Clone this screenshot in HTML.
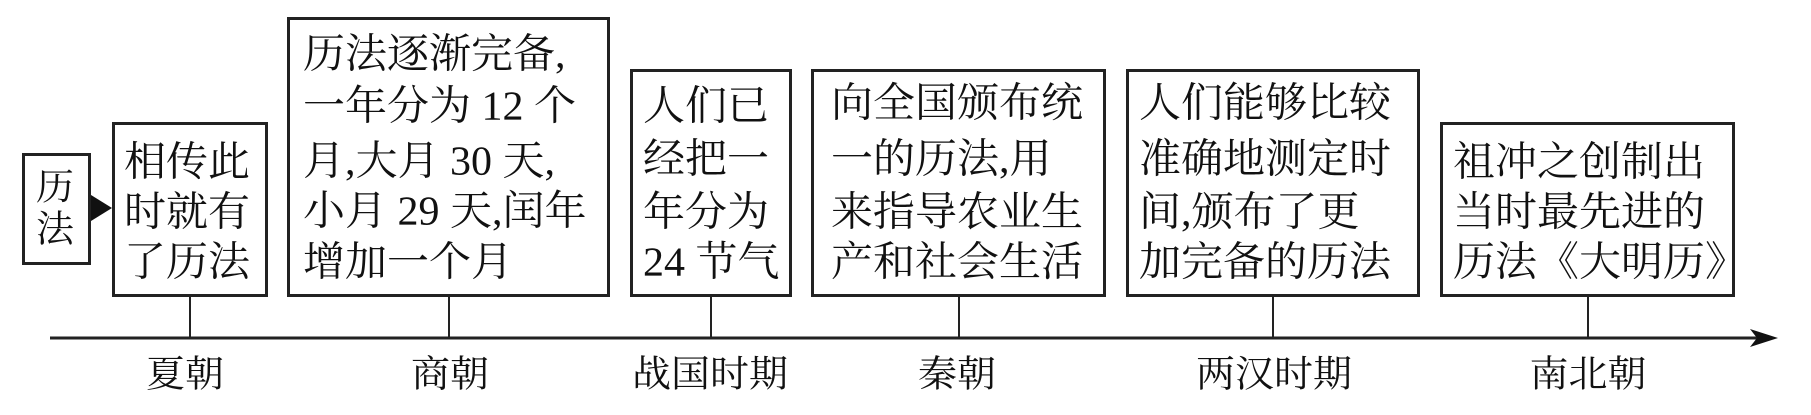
<!DOCTYPE html>
<html><head><meta charset="utf-8"><style>
html,body{margin:0;padding:0;background:#fff;}
body{width:1811px;height:415px;position:relative;overflow:hidden;font-family:"Liberation Serif","Noto Serif CJK SC",serif;color:#111;}
.b{position:absolute;border:3px solid #222;box-sizing:border-box;background:#fff;}
.t{position:absolute;white-space:nowrap;font-size:42px;line-height:52px;height:52px;transform:scaleY(0.97);transform-origin:left center;}
.l{position:absolute;font-size:39px;line-height:50px;white-space:nowrap;transform:translateX(-50%) scaleY(0.95);top:350px;}
.c{position:absolute;width:2px;background:#222;top:296px;height:42px;}
</style></head><body>
<div class="b" style="left:22px;top:153px;width:69px;height:112px;"></div>
<div class="t" style="left:36px;top:162px;font-size:38px;">历</div>
<div class="t" style="left:36px;top:204px;font-size:38px;">法</div>
<svg style="position:absolute;left:0;top:0" width="1811" height="415">
<polygon points="91,195 112,208 91,221" fill="#111"/>
<line x1="50" y1="338" x2="1758" y2="338" stroke="#222" stroke-width="3"/>
<polygon points="1778,338 1750,329 1757,338 1750,347" fill="#111"/>
</svg>
<div class="b" style="left:112px;top:122px;width:156px;height:175px;"></div>
<div class="b" style="left:287px;top:17px;width:323px;height:280px;"></div>
<div class="b" style="left:630px;top:69px;width:162px;height:228px;"></div>
<div class="b" style="left:811px;top:69px;width:295px;height:228px;"></div>
<div class="b" style="left:1126px;top:69px;width:294px;height:228px;"></div>
<div class="b" style="left:1440px;top:122px;width:295px;height:175px;"></div>
<div class="c" style="left:189px"></div>
<div class="c" style="left:448px"></div>
<div class="c" style="left:710px"></div>
<div class="c" style="left:958px"></div>
<div class="c" style="left:1272px"></div>
<div class="c" style="left:1587px"></div>

<div class="t" style="left:124px;top:137px">相传此</div>
<div class="t" style="left:124px;top:187px">时就有</div>
<div class="t" style="left:124px;top:237px">了历法</div>

<div class="t" style="left:303px;top:29px">历法逐渐完备,</div>
<div class="t" style="left:303px;top:81px">一年分为 12 个</div>
<div class="t" style="left:303px;top:136px">月,大月 30 天,</div>
<div class="t" style="left:303px;top:186px">小月 29 天,闰年</div>
<div class="t" style="left:303px;top:237px">增加一个月</div>

<div class="t" style="left:643px;top:81px">人们已</div>
<div class="t" style="left:643px;top:134px">经把一</div>
<div class="t" style="left:643px;top:187px">年分为</div>
<div class="t" style="left:643px;top:237px">24 节气</div>

<div class="t" style="left:831px;top:78px">向全国颁布统</div>
<div class="t" style="left:831px;top:134px">一的历法,用</div>
<div class="t" style="left:831px;top:187px">来指导农业生</div>
<div class="t" style="left:831px;top:237px">产和社会生活</div>

<div class="t" style="left:1139px;top:78px">人们能够比较</div>
<div class="t" style="left:1139px;top:134px">准确地测定时</div>
<div class="t" style="left:1139px;top:187px">间,颁布了更</div>
<div class="t" style="left:1139px;top:237px">加完备的历法</div>

<div class="t" style="left:1453px;top:137px">祖冲之创制出</div>
<div class="t" style="left:1453px;top:187px">当时最先进的</div>
<div class="t" style="left:1453px;top:237px">历法《大明历》</div>

<div class="l" style="left:185px">夏朝</div>
<div class="l" style="left:450px">商朝</div>
<div class="l" style="left:710px">战国时期</div>
<div class="l" style="left:957px">秦朝</div>
<div class="l" style="left:1274px">两汉时期</div>
<div class="l" style="left:1588px">南北朝</div>
</body></html>
